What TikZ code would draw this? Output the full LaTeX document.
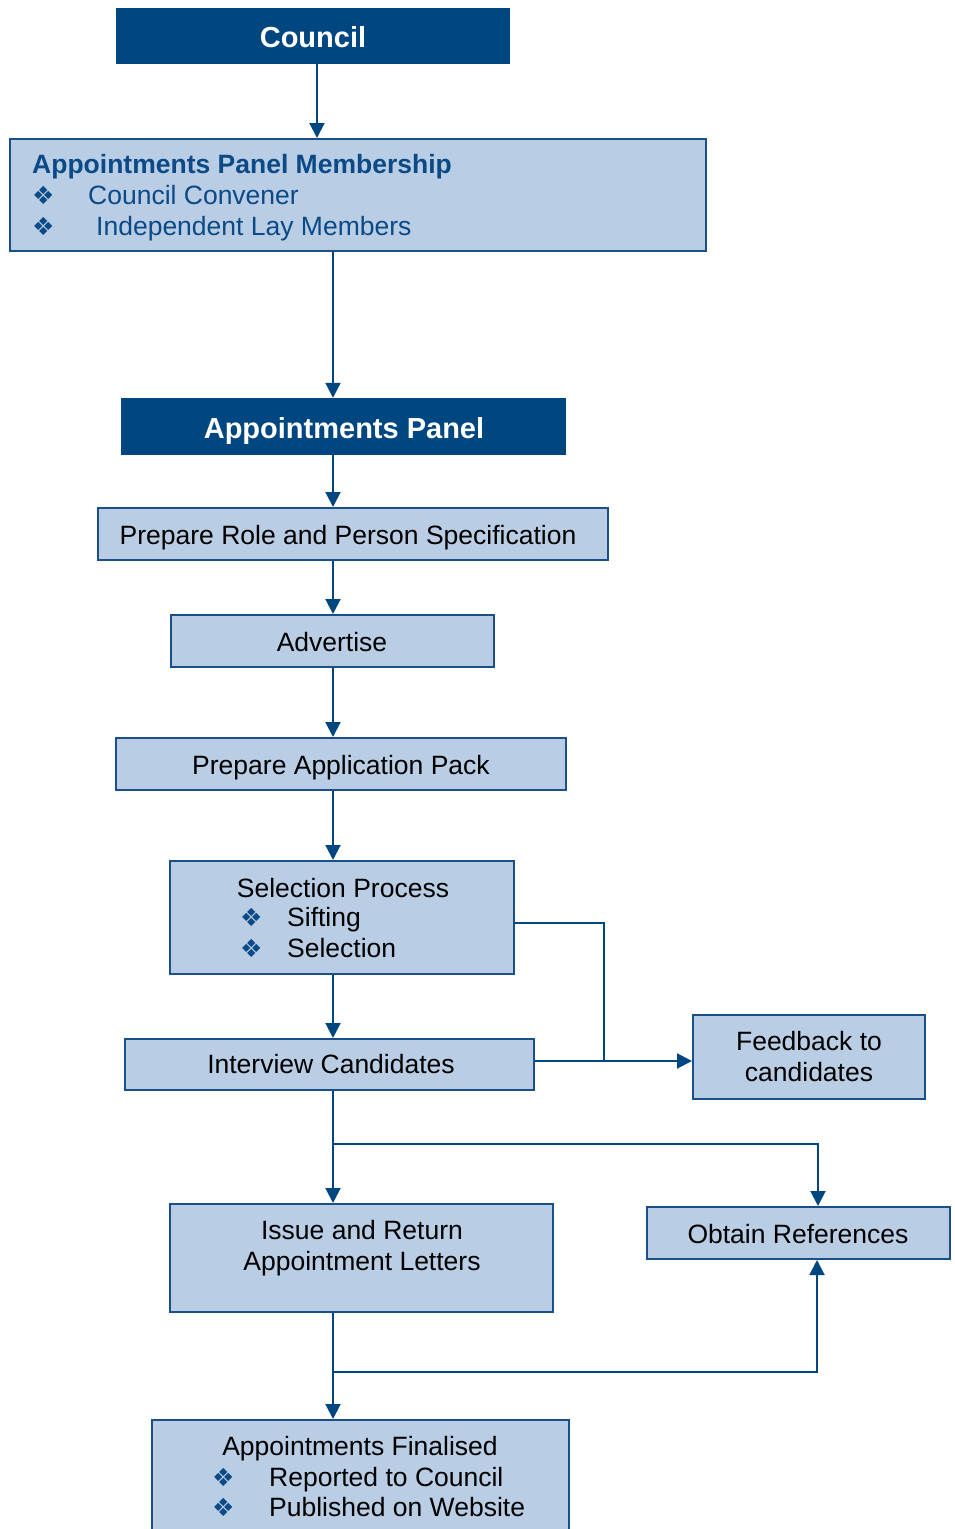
\documentclass[tikz,border=0pt]{standalone}
\usepackage{fontspec}
\setmainfont{Liberation Sans}
\newfontfamily\dejavu{DejaVu Sans}
\usetikzlibrary{arrows.meta}
\definecolor{navy}{HTML}{004680}
\definecolor{lightblue}{HTML}{B9CDE5}
\definecolor{edge}{HTML}{1A4F8A}
\definecolor{textnavy}{HTML}{0B4A86}
\begin{document}
\begin{tikzpicture}[x=1pt,y=-1pt,
  darkbox/.style={rectangle, fill=navy, draw=none, inner sep=0pt},
  lightbox/.style={rectangle, fill=lightblue, draw=edge, line width=2pt, inner sep=0pt},
  txt/.style={anchor=base, inner sep=0pt, font=\fontsize{26.5}{30.5}\selectfont},
  txtw/.style={txt, anchor=base west},
  head/.style={anchor=base, inner sep=0pt, text=white, font=\fontsize{29}{33}\selectfont\bfseries},
  bul/.style={anchor=base west, inner sep=0pt, text=textnavy, font=\dejavu\fontsize{25}{25}\selectfont},
  conn/.style={draw=navy, line width=2pt},
  arr/.style={conn, -{Triangle[length=15pt,width=15pt]}}
]
\useasboundingbox (0,0) rectangle (954,1529);
% boxes
\node[darkbox, minimum width=394pt, minimum height=56pt] (council) at (313,36) {};
\node[lightbox, minimum width=696pt, minimum height=112pt] (apm) at (358,195) {};
\node[darkbox, minimum width=445pt, minimum height=57pt] (ap) at (343.5,426.5) {};
\node[lightbox, minimum width=510pt, minimum height=52pt] (pr) at (353,534) {};
\node[lightbox, minimum width=323pt, minimum height=52pt] (adv) at (332.5,641) {};
\node[lightbox, minimum width=450pt, minimum height=52pt] (pap) at (341,764) {};
\node[lightbox, minimum width=344pt, minimum height=113pt] (sp) at (342,917.5) {};
\node[lightbox, minimum width=409pt, minimum height=51pt] (ic) at (329.5,1064.5) {};
\node[lightbox, minimum width=232pt, minimum height=84pt] (fb) at (809,1057) {};
\node[lightbox, minimum width=383pt, minimum height=108pt] (is) at (361.5,1258) {};
\node[lightbox, minimum width=303pt, minimum height=52pt] (or) at (798.5,1233) {};
\node[lightbox, minimum width=417pt, minimum height=124pt] (fin) at (360.5,1482) {};
% texts
\node[head] (tcouncil) at (313,47) {Council};
\node[txtw, text=textnavy, font=\fontsize{26.5}{30.5}\selectfont\bfseries] (tapm) at (32,173.5) {Appointments Panel Membership};
\node[bul] (b1) at (32,204) {❖};
\node[txtw, text=textnavy] (tapm1) at (88,204) {Council Convener};
\node[bul] (b2) at (32,235) {❖};
\node[txtw, text=textnavy] (tapm2) at (96,235) {Independent Lay Members};
\node[head] (tap) at (344,438) {Appointments Panel};
\node[txt] (tpr) at (348,544) {Prepare Role and Person Specification};
\node[txt] (tadv) at (332,651) {Advertise};
\node[txt] (tpap) at (341,774) {Prepare Application Pack};
\node[txt] (tsp) at (343,897) {Selection Process};
\node[bul] (b3) at (240,926) {❖};
\node[txtw] (tsp1) at (287,926) {Sifting};
\node[bul] (b4) at (240,957) {❖};
\node[txtw] (tsp2) at (287,957) {Selection};
\node[txt] (tic) at (331,1073) {Interview Candidates};
\node[txt] (tfb1) at (809,1050) {Feedback to};
\node[txt] (tfb2) at (809,1081) {candidates};
\node[txt] (tis1) at (362,1239) {Issue and Return};
\node[txt] (tis2) at (362,1270) {Appointment Letters};
\node[txt] (tor) at (798,1243) {Obtain References};
\node[txt] (tfin) at (360,1455) {Appointments Finalised};
\node[bul] (b5) at (212,1486) {❖};
\node[txtw] (tfin1) at (269,1486) {Reported to Council};
\node[bul] (b6) at (212,1516) {❖};
\node[txtw] (tfin2) at (269,1516) {Published on Website};
% connectors
\coordinate (c1) at (317,0);
\coordinate (spine) at (333,0);
\draw[arr] (council.south -| c1) -- (apm.north -| c1);
\draw[arr] (apm.south -| spine) -- (ap.north -| spine);
\draw[arr] (ap.south -| spine) -- (pr.north -| spine);
\draw[arr] (pr.south -| spine) -- (adv.north -| spine);
\draw[arr] (adv.south -| spine) -- (pap.north -| spine);
\draw[arr] (pap.south -| spine) -- (sp.north -| spine);
\draw[arr] (sp.south -| spine) -- (ic.north -| spine);
\coordinate (j1) at (604,923);
\coordinate (j2) at (604,1061);
\draw[arr] (sp.east |- j1) -- (j1) -- (j2) -- (fb.west |- j2);
\draw[conn] (ic.east |- j2) -- (j2);
\draw[arr] (ic.south -| spine) -- (is.north -| spine);
\coordinate (k1) at (333,1144);
\coordinate (k2) at (818,1144);
\draw[arr] (k1) -- (k2) -- (or.north -| k2);
\draw[arr] (is.south -| spine) -- (fin.north -| spine);
\coordinate (k3) at (333,1372);
\coordinate (k4) at (817,1372);
\draw[arr] (k3) -- (k4) -- (or.south -| k4);
\end{tikzpicture}
\end{document}
